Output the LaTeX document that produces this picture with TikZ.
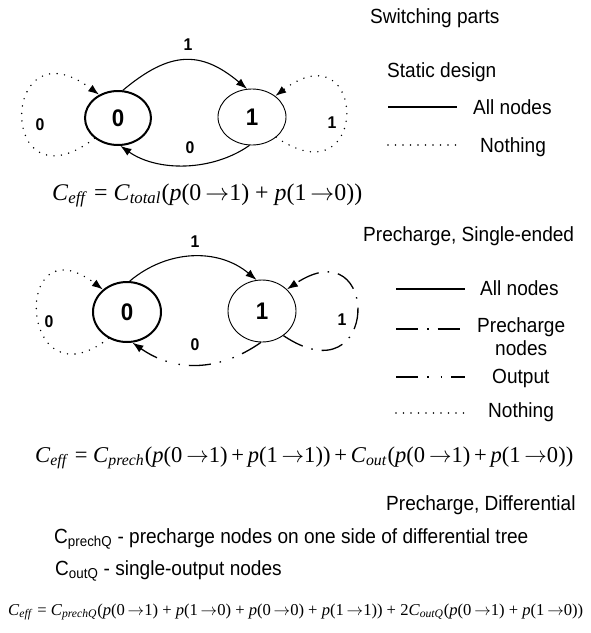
\documentclass[tikz,border=0pt]{standalone}
\usepackage{fontspec}
\usepackage{graphicx}
\setmainfont[FakeStretch=0.93]{Liberation Sans}
\newfontfamily\eqfont{Liberation Serif}
\usetikzlibrary{shapes.geometric,arrows.meta}
\newcommand{\eqC}[1]{\textit{C}\textsubscript{\textit{#1}}}
\newcommand{\pp}[2]{\textit{p}(#1\,$\rightarrow$#2)}
\begin{document}
\begin{tikzpicture}[x=1pt,y=-1pt,
  st/.style={ellipse, draw, inner sep=0pt, line width=0.9pt, font=\fontsize{24}{24}\selectfont\bfseries},
  thk/.style={line width=2pt},
  arc/.style={line width=1.1pt, -{Latex[length=11pt,width=8pt]}},
  tip/.style={-{Latex[length=11pt,width=8pt]}},
  nothing/.style={line width=1.6pt, line cap=round, dash pattern=on 0pt off 7.5pt},
  prech/.style={line width=1.3pt, dash pattern=on 22pt off 9pt on 1.5pt off 9pt},
  outp/.style={line width=1.3pt, dash pattern=on 22pt off 9pt on 1.5pt off 12pt on 1.5pt off 9pt},
  solidl/.style={line width=1.2pt},
  lbl/.style={font=\fontsize{17}{17}\selectfont\bfseries, inner sep=0pt},
  txt/.style={font=\fontsize{20.5}{23}\selectfont, inner sep=0pt, anchor=base west},
  eqn/.style={inner sep=0pt, anchor=base west}
]
\useasboundingbox (0,0) rectangle (591,633);
\fill[white] (0,0) rectangle (591,633);

% ---------- Static design graph ----------
\node[st, thk, minimum width=66pt, minimum height=54pt] (s0) at (118,118) {0};
\node[st, minimum width=68pt, minimum height=56pt] (s1) at (252,117) {1};
\draw[arc] (s0.80) to[out=40, in=140, looseness=1.25] (s1.100);
\draw[arc] (s1.-95) to[out=-145, in=-35, looseness=0.9] (s0.-85);
\draw[nothing, tip] (s0.-139) .. controls +(-98,75) and +(-100,-75) .. (s0.129);
\draw[nothing, tip] (s1.-40) .. controls +(95,65) and +(92,-70) .. (s1.42);
\node[lbl] (t1) at (188,45) {1};
\node[lbl] (t0) at (190,148) {0};
\node[lbl] (tl) at (40,125) {0};
\node[lbl] (tr) at (332,123) {1};

\node[txt] (h1) at (370,23) {Switching parts};
\node[txt] (h2) at (387,77) {Static design};
\coordinate (a1) at (388,107); \coordinate (a2) at (457,107);
\draw[solidl] (a1) -- (a2);
\node[txt] (a3) at (473,114) {All nodes};
\coordinate (b1) at (388,145); \coordinate (b2) at (457,145);
\draw[nothing] (b1) -- (b2);
\node[txt] (b3) at (480,152) {Nothing};

\node[eqn] (eq1) at (52,200) {\resizebox{310pt}{!}{\eqfont \eqC{eff} = \eqC{total}(\pp01 + \pp10)}};

% ---------- Precharge single-ended graph ----------
\node[st, thk, minimum width=68pt, minimum height=60pt] (m0) at (127,312) {0};
\node[st, minimum width=68pt, minimum height=62pt] (m1) at (262,311) {1};
\draw[arc] (m0.85) to[out=40, in=140, looseness=1.0] (m1.100);
\draw[outp, tip] (m1.-92) to[out=-145, in=-35, looseness=1.03] (m0.-80);
\draw[nothing, tip] (m0.-125) .. controls +(-90,70) and +(-92,-70) .. (m0.137);
\draw[prech, tip] (m1.-49) .. controls +(97,65) and +(94,-63) .. (m1.41);
\node[lbl] (u1) at (195,242) {1};
\node[lbl] (u0) at (195,345) {0};
\node[lbl] (ul) at (49,322) {0};
\node[lbl] (ur) at (342,320) {1};

\node[txt] (h3) at (363,241) {Precharge, Single-ended};
\coordinate (c1) at (396,289); \coordinate (c2) at (465,289);
\draw[solidl] (c1) -- (c2);
\node[txt] (c3) at (480,295) {All nodes};
\coordinate (d1) at (396,329); \coordinate (d2) at (465,329);
\draw[prech] (d1) -- (d2);
\node[txt] (d3) at (477,332) {Precharge};
\node[txt] (d4) at (495,355) {nodes};
\coordinate (e1) at (396,377); \coordinate (e2) at (465,377);
\draw[outp] (e1) -- (e2);
\node[txt] (e3) at (492,383) {Output};
\coordinate (f1) at (396,413); \coordinate (f2) at (465,413);
\draw[nothing] (f1) -- (f2);
\node[txt] (f3) at (488,417) {Nothing};

\node[eqn] (eq2) at (35,462) {\resizebox{538pt}{!}{\eqfont \eqC{eff} = \eqC{prech}(\pp01\,+\,\pp11)\,+\,\eqC{out}(\pp01\,+\,\pp10)}};

% ---------- Precharge differential ----------
\node[txt] (h4) at (386,510) {Precharge, Differential};
\node[txt] (g1) at (54,543) {C\textsubscript{prechQ} - precharge nodes on one side of differential tree};
\node[txt] (g2) at (55,575) {C\textsubscript{outQ} - single-output nodes};

\node[eqn] (eq3) at (8,615) {\resizebox{575pt}{!}{\eqfont \eqC{eff} = \eqC{prechQ}(\pp01 + \pp10 + \pp00 + \pp11) + 2\eqC{outQ}(\pp01 + \pp10)}};
\end{tikzpicture}
\end{document}
